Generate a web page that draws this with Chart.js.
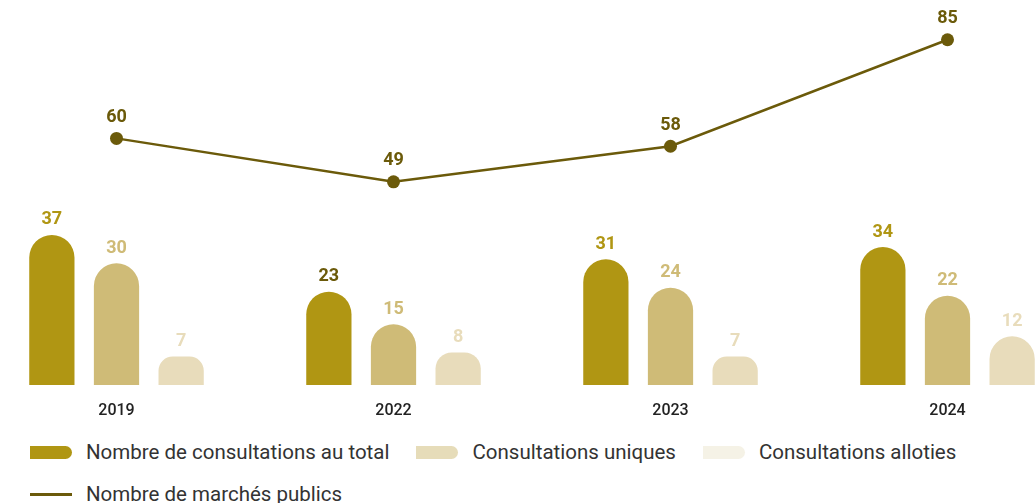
<!DOCTYPE html>
<html>
<head>
<meta charset="utf-8">
<script src="https://cdn.jsdelivr.net/npm/chart.js@4.4.1/dist/chart.umd.min.js"></script>
<style>
  html, body { margin: 0; padding: 0; background: #fff; overflow: hidden; }
  body { width: 1036px; height: 503px; position: relative; font-family: Roboto, "Noto Sans", sans-serif; }
  #wrap { position: absolute; left: -22px; top: 0; width: 1108px; height: 430px; }
  #legend { position: absolute; left: 30px; top: 437px; width: 1010px; color: #333; font-size: 20.5px; }
  .row { display: flex; align-items: center; height: 30px; margin-bottom: 12px; white-space: nowrap; }
  .item { display: flex; align-items: center; margin-right: 27px; }
  .sw { width: 42px; height: 13px; border-radius: 0 7px 7px 0; margin-right: 14px; }
  .ln { width: 42px; height: 3px; margin-right: 14px; }
</style>
</head>
<body>
<div id="wrap"><canvas id="chart"></canvas></div>
<div id="legend"></div>
<script>
var years = ['2019', '2022', '2023', '2024'];
var totalConsultations = [37, 23, 31, 34];
var uniqueConsultations = [30, 15, 24, 22];
var allotedConsultations = [7, 8, 7, 12];
var publicMarkets = [60, 49, 58, 85];

var gold = '#b09613';
var sand = '#cfbb77';
var cream = '#e8dcbb';
var olive = '#6b5a0a';

// value labels above every bar / point
var valueLabels = {
    id: 'valueLabels',
    afterDatasetsDraw: function (chart) {
        var ctx = chart.ctx;
        ctx.save();
        ctx.font = 'bold 18px Roboto, sans-serif';
        ctx.textAlign = 'center';
        ctx.textBaseline = 'middle';
        chart.data.datasets.forEach(function (ds, i) {
            var meta = chart.getDatasetMeta(i);
            meta.data.forEach(function (el, j) {
                var col = ds.labelColor;
                if (ds.labelColors && ds.labelColors[j]) col = ds.labelColors[j];
                ctx.fillStyle = col;
                var off = ds.type === 'line' ? 21 : 15;
                ctx.fillText(ds.data[j], el.x, el.y - off);
            });
        });
        ctx.restore();
    }
};

var ctx = document.getElementById('chart').getContext('2d');
var chart = new Chart(ctx, {
    type: 'bar',
    data: {
        labels: years,
        datasets: [{
            type: 'line',
            label: 'Nombre de marchés publics',
            data: publicMarkets,
            yAxisID: 'y1',
            borderColor: olive,
            backgroundColor: olive,
            borderWidth: 2.5,
            pointRadius: 6.5,
            pointBackgroundColor: olive,
            pointBorderWidth: 0,
            tension: 0,
            labelColor: olive,
            order: 0
        }, {
            label: 'Nombre de consultations au total',
            data: totalConsultations,
            backgroundColor: gold,
            labelColor: gold,
            labelColors: [null, olive, null, null],
            order: 1
        }, {
            label: 'Consultations uniques',
            data: uniqueConsultations,
            backgroundColor: sand,
            labelColor: sand,
            order: 1
        }, {
            label: 'Consultations alloties',
            data: allotedConsultations,
            backgroundColor: cream,
            labelColor: cream,
            order: 1
        }]
    },
    options: {
        responsive: true,
        maintainAspectRatio: false,
        animation: false,
        layout: { autoPadding: false, padding: { top: 20, bottom: 0, left: 0, right: 0 } },
        datasets: {
            bar: {
                categoryPercentage: 0.7,
                barPercentage: 0.7,
                borderRadius: { topLeft: 23, topRight: 23, bottomLeft: 0, bottomRight: 0 },
                borderSkipped: 'bottom'
            }
        },
        plugins: {
            legend: { display: false },
            tooltip: { enabled: false }
        },
        scales: {
            x: {
                grid: { display: false, drawTicks: false },
                border: { display: false },
                ticks: {
                    color: '#222',
                    padding: 16,
                    font: { family: 'Roboto, sans-serif', size: 16, weight: '500' }
                },
                afterFit: function (s) { s.height = 45; }
            },
            y: {
                display: false,
                min: 0,
                max: 90
            },
            y1: {
                display: false,
                min: -2.5,
                max: 90
            }
        }
    },
    plugins: [valueLabels]
});

// html legend
var legendRows = [
    [{ text: 'Nombre de consultations au total', color: gold },
     { text: 'Consultations uniques', color: '#e6dcb9' },
     { text: 'Consultations alloties', color: '#f5f2e6' }],
    [{ text: 'Nombre de marchés publics', color: olive, line: true }]
];
var legend = document.getElementById('legend');
legendRows.forEach(function (row) {
    var r = document.createElement('div');
    r.className = 'row';
    row.forEach(function (it) {
        var item = document.createElement('div');
        item.className = 'item';
        var sw = document.createElement('div');
        sw.className = it.line ? 'ln' : 'sw';
        sw.style.background = it.color;
        var t = document.createElement('span');
        t.textContent = it.text;
        item.appendChild(sw);
        item.appendChild(t);
        r.appendChild(item);
    });
    legend.appendChild(r);
});
</script>
</body>
</html>
